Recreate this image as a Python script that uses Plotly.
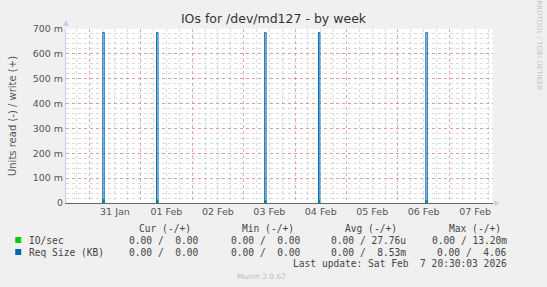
import plotly.graph_objects as go
from datetime import datetime, timedelta

# ---- data ----
range_start = "2026-01-30 13:10"
range_end = "2026-02-07 20:20"
spike_times = ["2026-01-31 06:20", "2026-02-01 07:25", "2026-02-03 09:50",
               "2026-02-04 10:55", "2026-02-06 13:00"]
req_size_vals = [0.686, 0.686, 0.686, 0.686, 0.686]
io_sec_vals = [0.0132, 0.0120, 0.0090, 0.0090, 0.0100]
y_tick_vals = [0, 0.1, 0.2, 0.3, 0.4, 0.5, 0.6, 0.7]
y_tick_text = ["0", "100 m", "200 m", "300 m", "400 m", "500 m", "600 m", "700 m"]
legend_header = ["Cur (-/+)", "Min (-/+)", "Avg (-/+)", "Max (-/+)"]
io_row = ["0.00 /  0.00", "0.00 /  0.00", "0.00 / 27.76u", "0.00 / 13.20m"]
req_row = ["0.00 /  0.00", "0.00 /  0.00", "0.00 /  8.53m", "0.00 /  4.06"]
last_update = "Last update: Sat Feb  7 20:30:03 2026"

W, H = 547, 287
L, R, T, B = 64, 54, 29, 84
PW, PH = W - L - R, H - T - B

def px(x):
    return (x - L) / PW

def py(y):
    return (H - B - y) / PH

def series(times, vals, step_min=40):
    fmt = "%Y-%m-%d %H:%M"
    xs, ys = [], []
    for t, v in zip(times, vals):
        dt = datetime.strptime(t, fmt)
        t1 = (dt + timedelta(minutes=step_min)).strftime(fmt)
        t0 = dt.strftime(fmt)
        xs += [t0, t0, t1, t1, None]
        ys += [0, v, v, 0, None]
    return xs, ys

GREEN = "#00cc00"
BLUE = "#0066b3"

fig = go.Figure()
x1, y1 = series(spike_times, io_sec_vals)
fig.add_trace(go.Scatter(x=x1, y=y1, mode="lines", line=dict(color=GREEN, width=1),
                         fill="toself", fillcolor=GREEN,
                         name="IO/sec", hoverinfo="skip"))
x2, y2 = series(spike_times, req_size_vals)
fig.add_trace(go.Scatter(x=x2, y=y2, mode="lines", line=dict(color=BLUE, width=1),
                         name="Req Size (KB)", hoverinfo="skip"))

RED_GRID = "rgba(225,110,110,0.6)"
GRAY_GRID = "rgba(175,175,175,0.45)"
TXT = "#555555"

fig.update_layout(
    width=W, height=H,
    margin=dict(l=L, r=R, t=T, b=B),
    paper_bgcolor="#f0f0f0",
    plot_bgcolor="#ffffff",
    showlegend=False,
    font=dict(family="DejaVu Sans", size=9.5, color=TXT),
    title=dict(text="IOs for /dev/md127 - by week", x=0.5, xref="container", xanchor="center",
               y=1 - 19 / H, yref="container", yanchor="middle",
               font=dict(family="DejaVu Sans", size=12.5, color="#333333")),
    xaxis=dict(
        type="date", range=[range_start, range_end],
        tick0="2026-01-31 00:00", dtick=86400000,
        tickformat="%d %b", ticklabelmode="period",
        showgrid=True, gridcolor=RED_GRID, griddash="dot", gridwidth=1,
        minor=dict(dtick=6 * 3600000, showgrid=True, gridcolor=GRAY_GRID, griddash="dot", gridwidth=1),
        ticks="", showline=True, linecolor="#666677", linewidth=1, layer="above traces",
        zeroline=False, tickfont=dict(size=9.5, color=TXT),
    ),
    yaxis=dict(
        range=[0, 0.7], tickvals=y_tick_vals, ticktext=y_tick_text,
        showgrid=True, gridcolor=RED_GRID, griddash="dot", gridwidth=1,
        minor=dict(dtick=0.02, tick0=0, showgrid=True, gridcolor=GRAY_GRID, griddash="dot", gridwidth=1),
        ticks="", showline=True, linecolor="#c8c8f0", linewidth=1,
        zeroline=False, tickfont=dict(size=9.5, color=TXT),
        title=dict(text="Units read (-) / write (+)", font=dict(size=10, color=TXT), standoff=14),
    ),
)

ann = []
def text(x, y, s, anchor="left", size=9.6, color="#444444", fam="DejaVu Sans Mono", angle=0):
    ann.append(dict(x=px(x), y=py(y), xref="paper", yref="paper", text=s.replace(" ", "\u00a0"),
                    showarrow=False, xanchor=anchor, yanchor="middle", textangle=angle,
                    font=dict(family=fam, size=size, color=color)))

hdr_right = [191.7, 295, 399, 503]
val_right = [200, 302, 408, 509]
for s, xr in zip(legend_header, hdr_right):
    text(xr, 228, s, anchor="right")
text(25, 240, "IO/sec")
text(25, 252, "Req Size (KB)")
for s, xr in zip(io_row, val_right):
    text(xr, 240, s, anchor="right")
for s, xr in zip(req_row, val_right):
    text(xr, 252, s, anchor="right")
text(509, 263.5, last_update, anchor="right")
text(260.5, 276, "Munin 2.0.67", anchor="center", size=7.5, color="#bbbbbb", fam="DejaVu Sans")
text(539, 45, "RRDTOOL / TOBI OETIKER", anchor="center", size=7, color="#c4c4c4", fam="DejaVu Sans", angle=90)
# axis arrows
text(64, 23, "▲", anchor="center", size=7, color="#c8c8f0", fam="DejaVu Sans")
text(497, 203, "▶", anchor="center", size=7, color="#c8c8f0", fam="DejaVu Sans")
fig.update_layout(annotations=ann)

shapes = []
for yc, col in [(240, GREEN), (252, BLUE)]:
    shapes.append(dict(type="rect", xref="paper", yref="paper",
                       x0=px(13), x1=px(19), y0=py(yc + 3), y1=py(yc - 3),
                       fillcolor=col, line=dict(width=0)))
fig.update_layout(shapes=shapes)

fig.write_html("out.html")
